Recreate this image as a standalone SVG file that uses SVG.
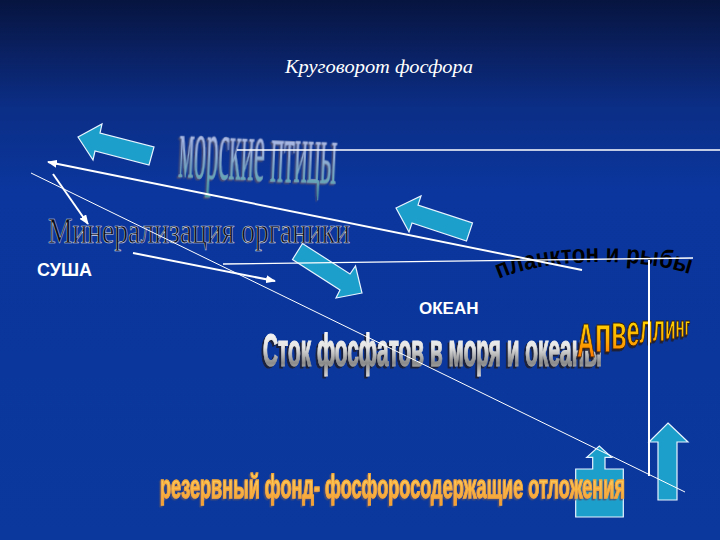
<svg xmlns="http://www.w3.org/2000/svg" width="720" height="540" viewBox="0 0 720 540">
<defs>
  <linearGradient id="bg" x1="0" y1="0" x2="0" y2="1">
    <stop offset="0" stop-color="#06143f"/>
    <stop offset="0.1" stop-color="#0a2163"/>
    <stop offset="0.2" stop-color="#0b2e86"/>
    <stop offset="0.35" stop-color="#0b369d"/>
    <stop offset="1" stop-color="#0a389c"/>
  </linearGradient>
  <linearGradient id="gBirds" x1="0" y1="0" x2="0" y2="1">
    <stop offset="0" stop-color="#d4d4fc"/>
    <stop offset="0.5" stop-color="#9cb0dc"/>
    <stop offset="1" stop-color="#3e9e9c"/>
  </linearGradient>
  <linearGradient id="gSilver" x1="0" y1="0" x2="0" y2="1">
    <stop offset="0" stop-color="#ffffff"/>
    <stop offset="0.45" stop-color="#e4e4e4"/>
    <stop offset="0.75" stop-color="#8a8a8a"/>
    <stop offset="1" stop-color="#d4d4d4"/>
  </linearGradient>
  <linearGradient id="gGold" x1="0" y1="0" x2="0" y2="1">
    <stop offset="0" stop-color="#fff400"/>
    <stop offset="0.55" stop-color="#ffb000"/>
    <stop offset="1" stop-color="#ff5a00"/>
  </linearGradient>
  <linearGradient id="gOrange" x1="0" y1="0" x2="0" y2="1">
    <stop offset="0" stop-color="#ffe070"/>
    <stop offset="1" stop-color="#f49a30"/>
  </linearGradient>
  <filter id="shd" x="-20%" y="-60%" width="140%" height="220%">
    <feDropShadow dx="-2" dy="2" stdDeviation="0.6" flood-color="#1a1a30" flood-opacity="0.9"/>
  </filter>
  <filter id="shdGrey" x="-20%" y="-60%" width="140%" height="220%">
    <feDropShadow dx="-1.5" dy="1.5" stdDeviation="0.5" flood-color="#505070" flood-opacity="0.9"/>
  </filter>
  <marker id="ah" viewBox="0 0 10 8" refX="9" refY="4" markerWidth="10" markerHeight="8" markerUnits="userSpaceOnUse" orient="auto">
    <path d="M0,0 L10,4 L0,8 z" fill="#ffffff"/>
  </marker>
  <path id="pPlank" d="M 499,279 C 545,258 645,256 694,276"/>
  <style>
    .arrow{fill:#1c9fcb;stroke:#e8f4ff;stroke-width:1.2}
    .ln{stroke:#ffffff;fill:none}
    .lbl{font-family:"Liberation Sans",Arial,sans-serif;font-weight:bold;fill:#ffffff}
  </style>
</defs>

<rect width="720" height="540" fill="url(#bg)"/>

<g id="title">
  <text x="285" y="73" font-family="'Liberation Serif','Times New Roman',serif" font-style="italic" font-size="18" textLength="188" lengthAdjust="spacingAndGlyphs" fill="#ffffff">Круговорот фосфора</text>
</g>

<g id="arrow-birds-up">
  <polygon class="arrow" points="78,137 102,124 100,133 154,147 149,165 95,151 93,160"/>
</g>
<g id="arrow-plankton-up">
  <polygon class="arrow" points="396,208 421,196 418,205 472.5,223 466.5,241 412,223 409,232"/>
</g>
<g id="arrow-to-ocean">
  <polygon class="arrow" points="362,293 336,298 340,290 292.5,259.5 302.5,243.5 350,274 355.5,266"/>
</g>
<g id="arrow-reserve-up">
  <polygon class="arrow" points="575.7,469 592.7,469 592.7,457.3 586.7,457.3 599.3,446 611.7,457.3 605,457.3 605,469 623.3,469 623.3,517 575.7,517"/>
</g>
<g id="arrow-upwelling-up">
  <polygon class="arrow" points="668,423 688,442 677,442 677,500 658,500 658,442 649,442"/>
</g>

<g id="node-birds">
  <text x="178" y="177" transform="rotate(2.5 178 177)" font-family="'Liberation Serif','Times New Roman',serif" font-size="88" textLength="158" lengthAdjust="spacingAndGlyphs" fill="url(#gBirds)" stroke="#7f8fb8" stroke-width="0.6" filter="url(#shdGrey)">морские птицы</text>
</g>

<g id="node-mineral">
  <text x="48" y="243" font-family="'Liberation Serif','Times New Roman',serif" font-size="35" textLength="302" lengthAdjust="spacingAndGlyphs" fill="#0a0c14" stroke="#d8dcec" stroke-width="0.6">Минерализация органики</text>
</g>

<g id="node-land">
  <text class="lbl" x="37" y="276" font-size="18">СУША</text>
</g>
<g id="node-ocean">
  <text class="lbl" x="419" y="314" font-size="17">ОКЕАН</text>
</g>

<g id="node-plankton">
  <text font-family="'Liberation Sans',Arial,sans-serif" font-weight="bold" font-size="26" fill="#000000"><textPath href="#pPlank" textLength="194" lengthAdjust="spacingAndGlyphs">планктон и рыбы</textPath></text>
</g>

<g id="node-runoff">
  <text x="263" y="366" font-family="'Liberation Sans',Arial,sans-serif" font-weight="bold" font-size="46" textLength="339" lengthAdjust="spacingAndGlyphs" fill="url(#gSilver)" stroke="url(#gSilver)" stroke-width="1.2" filter="url(#shd)">Сток фосфатов в моря и океаны</text>
</g>

<g id="node-upwelling">
  <g transform="translate(577,0) scale(0.52,1)">
    <text x="0" font-family="'Liberation Sans',Arial,sans-serif" font-weight="bold" fill="url(#gGold)" stroke="#3a2000" stroke-width="1" filter="url(#shd)"><tspan y="357" font-size="48">А</tspan><tspan y="352" font-size="52">п</tspan><tspan y="349" font-size="48">в</tspan><tspan y="346" font-size="44">е</tspan><tspan y="343.5" font-size="40.5">л</tspan><tspan y="341" font-size="37">л</tspan><tspan y="339" font-size="33">и</tspan><tspan y="337" font-size="29">н</tspan><tspan y="335.5" font-size="25">г</tspan></text>
  </g>
</g>

<g id="node-reserve">
  <text x="160" y="498" font-family="'Liberation Sans',Arial,sans-serif" font-weight="bold" font-size="33" textLength="465" lengthAdjust="spacingAndGlyphs" fill="url(#gOrange)" stroke="#f6a838" stroke-width="1.4" filter="url(#shdGrey)">резервный фонд- фосфоросодержащие отложения</text>
</g>

<g id="connectors">
  <line class="ln" x1="237" y1="150" x2="720" y2="150" stroke-width="1.3"/>
  <line class="ln" x1="582" y1="270" x2="48" y2="162" stroke-width="2" marker-end="url(#ah)"/>
  <line class="ln" x1="31" y1="173" x2="685" y2="492" stroke-width="1"/>
  <line class="ln" x1="53" y1="174" x2="88" y2="224" stroke-width="2" marker-end="url(#ah)"/>
  <line class="ln" x1="133" y1="253" x2="275" y2="281" stroke-width="2" marker-end="url(#ah)"/>
  <line class="ln" x1="223" y1="264" x2="693" y2="258" stroke-width="1.3"/>
  <line class="ln" x1="649" y1="260" x2="649" y2="476" stroke-width="2"/>
</g>
</svg>
